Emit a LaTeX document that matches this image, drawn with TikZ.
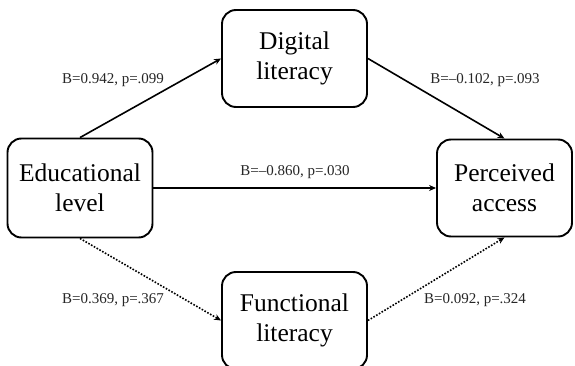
\documentclass[tikz,border=0pt]{standalone}
\usepackage{fontspec}
\setmainfont{Liberation Serif}
\usetikzlibrary{arrows.meta}
\begin{document}
\begin{tikzpicture}[x=1pt,y=-1pt,
  var/.style={draw, line width=1.9pt, rounded corners=14pt, align=center,
    minimum width=145pt, minimum height=97pt, inner sep=0pt,
    font=\fontsize{25.5}{30}\selectfont},
  path/.style={line width=1.6pt, -{Stealth[length=7pt,width=6pt]}},
  weak/.style={path, dash pattern=on 1.6pt off 1.6pt},
  coef/.style={font=\fontsize{15}{18}\selectfont, text=black!85, inner sep=0pt}]
  \useasboundingbox (0,0) rectangle (575,366);
  \begin{scope}
    \clip (0,0) rectangle (575,366);
    \node[var, minimum height=99pt] (edu) at (80,188) {Educational\\level};
    \node[var] (dig) at (294.5,58.5) {Digital\\literacy};
    \node[var, minimum width=135pt] (per) at (504.5,188) {Perceived\\access};
    \node[var] (fun) at (294.5,320.5) {Functional\\literacy};
  \end{scope}
  \draw[path] (edu.north) -- (dig.west);
  \draw[path] (dig.east) -- (per.north);
  \draw[path] (edu.east) -- (per.west);
  \draw[weak] (edu.south) -- (fun.west);
  \draw[weak] (fun.east) -- (per.south);
  \node[coef] (l1) at (113,80) {B=0.942, p=.099};
  \node[coef] (l2) at (485,80) {B=--0.102, p=.093};
  \node[coef] (l3) at (295,172) {B=--0.860, p=.030};
  \node[coef] (l4) at (113,300) {B=0.369, p=.367};
  \node[coef] (l5) at (475,300) {B=0.092, p=.324};
\end{tikzpicture}
\end{document}
